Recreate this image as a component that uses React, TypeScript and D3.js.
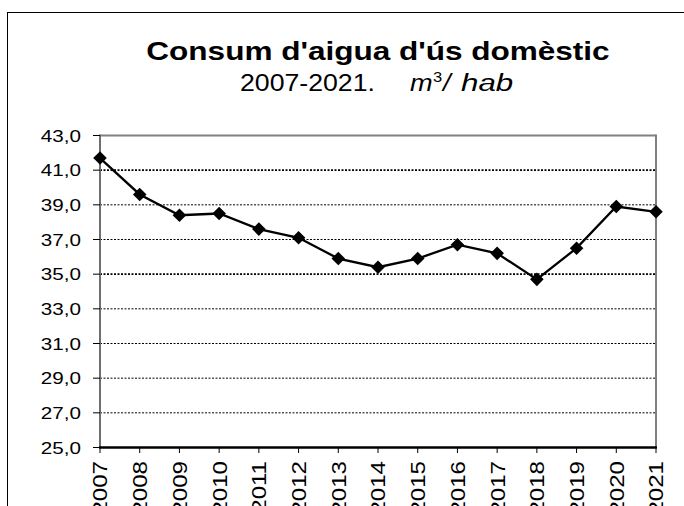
import React from 'react';
import * as d3 from 'd3';

const years = [2007, 2008, 2009, 2010, 2011, 2012, 2013, 2014, 2015, 2016, 2017, 2018, 2019, 2020, 2021];
const consum = [41.7, 39.6, 38.4, 38.5, 37.6, 37.1, 35.9, 35.4, 35.9, 36.7, 36.2, 34.7, 36.5, 38.9, 38.6];
const yTicks = [25, 27, 29, 31, 33, 35, 37, 39, 41, 43];

const W = 684;
const H = 506;
const plot = { left: 100, right: 656, top: 135.5, bottom: 447.5 };
const FONT = "'Liberation Sans', Arial, sans-serif";

const fmt = (v: number) => d3.format('.1f')(v).replace('.', ',');

export default function App() {
  const x = d3.scaleLinear().domain([years[0], years[years.length - 1]]).range([plot.left, plot.right]);
  const y = d3.scaleLinear().domain([25, 43]).range([plot.bottom, plot.top]);

  const line = d3.line<number>()
    .x((_, i) => x(years[i]))
    .y(d => y(d));

  // square rotated 45deg gives the Excel diamond marker
  const marker = d3.symbol().type(d3.symbolSquare).size(92)();

  return (
    <svg width={W} height={H} style={{ position: 'absolute', left: 0, top: 0, background: '#fff' }}>
      {/* outer chart frame */}
      <rect x={7.5} y={12.5} width={720} height={620} fill="#fff" stroke="#000" strokeWidth={1} />

      {/* title */}
      <text transform="translate(378,60) scale(1.19,1)" textAnchor="middle" fontFamily={FONT}
        fontSize={26.5} fontWeight="bold" fill="#000">
        Consum d'aigua d'ús domèstic
      </text>
      <g fontFamily={FONT} fill="#000">
        <text transform="translate(240,91) scale(1.16,1)" fontSize={23}>2007-2021.</text>
        <text transform="translate(410,91) scale(1.18,1)" fontSize={23} fontStyle="italic">m</text>
        <text transform="translate(433,82) scale(1.18,1)" fontSize={14}>3</text>
        <text transform="translate(443,91) scale(1.18,1)" fontSize={23} fontStyle="italic">/</text>
        <text transform="translate(461,91) scale(1.36,1)" fontSize={23} fontStyle="italic">hab</text>
      </g>

      {/* gridlines */}
      {yTicks.filter(t => t > 25 && t < 43).map(t => (
        <line key={t} x1={plot.left} x2={plot.right} y1={y(t)} y2={y(t)}
          stroke="#000" strokeWidth={t === 41 || t === 35 ? 1.8 : 1} strokeDasharray="2,1.5" />
      ))}

      {/* plot border */}
      <line x1={plot.left} x2={plot.right} y1={plot.top} y2={plot.top} stroke="#808080" strokeWidth={2} />
      <line x1={plot.right} x2={plot.right} y1={plot.top - 1} y2={plot.bottom} stroke="#808080" strokeWidth={2} />
      <line x1={plot.left} x2={plot.left} y1={plot.top - 1} y2={plot.bottom} stroke="#6e6e6e" strokeWidth={2} />

      {/* y axis ticks and labels */}
      {yTicks.map(t => (
        <g key={t}>
          <line x1={93} x2={plot.left} y1={y(t)} y2={y(t)} stroke="#000" strokeWidth={1} />
          <text transform={`translate(81,${y(t)}) scale(1.2,1)`} dy="0.36em" textAnchor="end"
            fontFamily={FONT} fontSize={17.2} fill="#000">{fmt(t)}</text>
        </g>
      ))}

      {/* x axis */}
      <line x1={plot.left - 1} x2={plot.right + 1} y1={plot.bottom} y2={plot.bottom} stroke="#000" strokeWidth={2.5} />
      {years.map(yr => (
        <g key={yr}>
          <line x1={x(yr)} x2={x(yr)} y1={plot.bottom} y2={453} stroke="#000" strokeWidth={1} />
          <text transform={`translate(${x(yr)},461) rotate(-90) scale(1.4,1.2)`} dy="0.36em" textAnchor="end"
            fontFamily={FONT} fontSize={17.2} fill="#000">{yr}</text>
        </g>
      ))}

      {/* series */}
      <path d={line(consum) || ''} fill="none" stroke="#000" strokeWidth={2.3} />
      {consum.map((v, i) => (
        <path key={years[i]} d={marker || ''} transform={`translate(${x(years[i])},${y(v)}) rotate(45)`} fill="#000" />
      ))}
    </svg>
  );
}
